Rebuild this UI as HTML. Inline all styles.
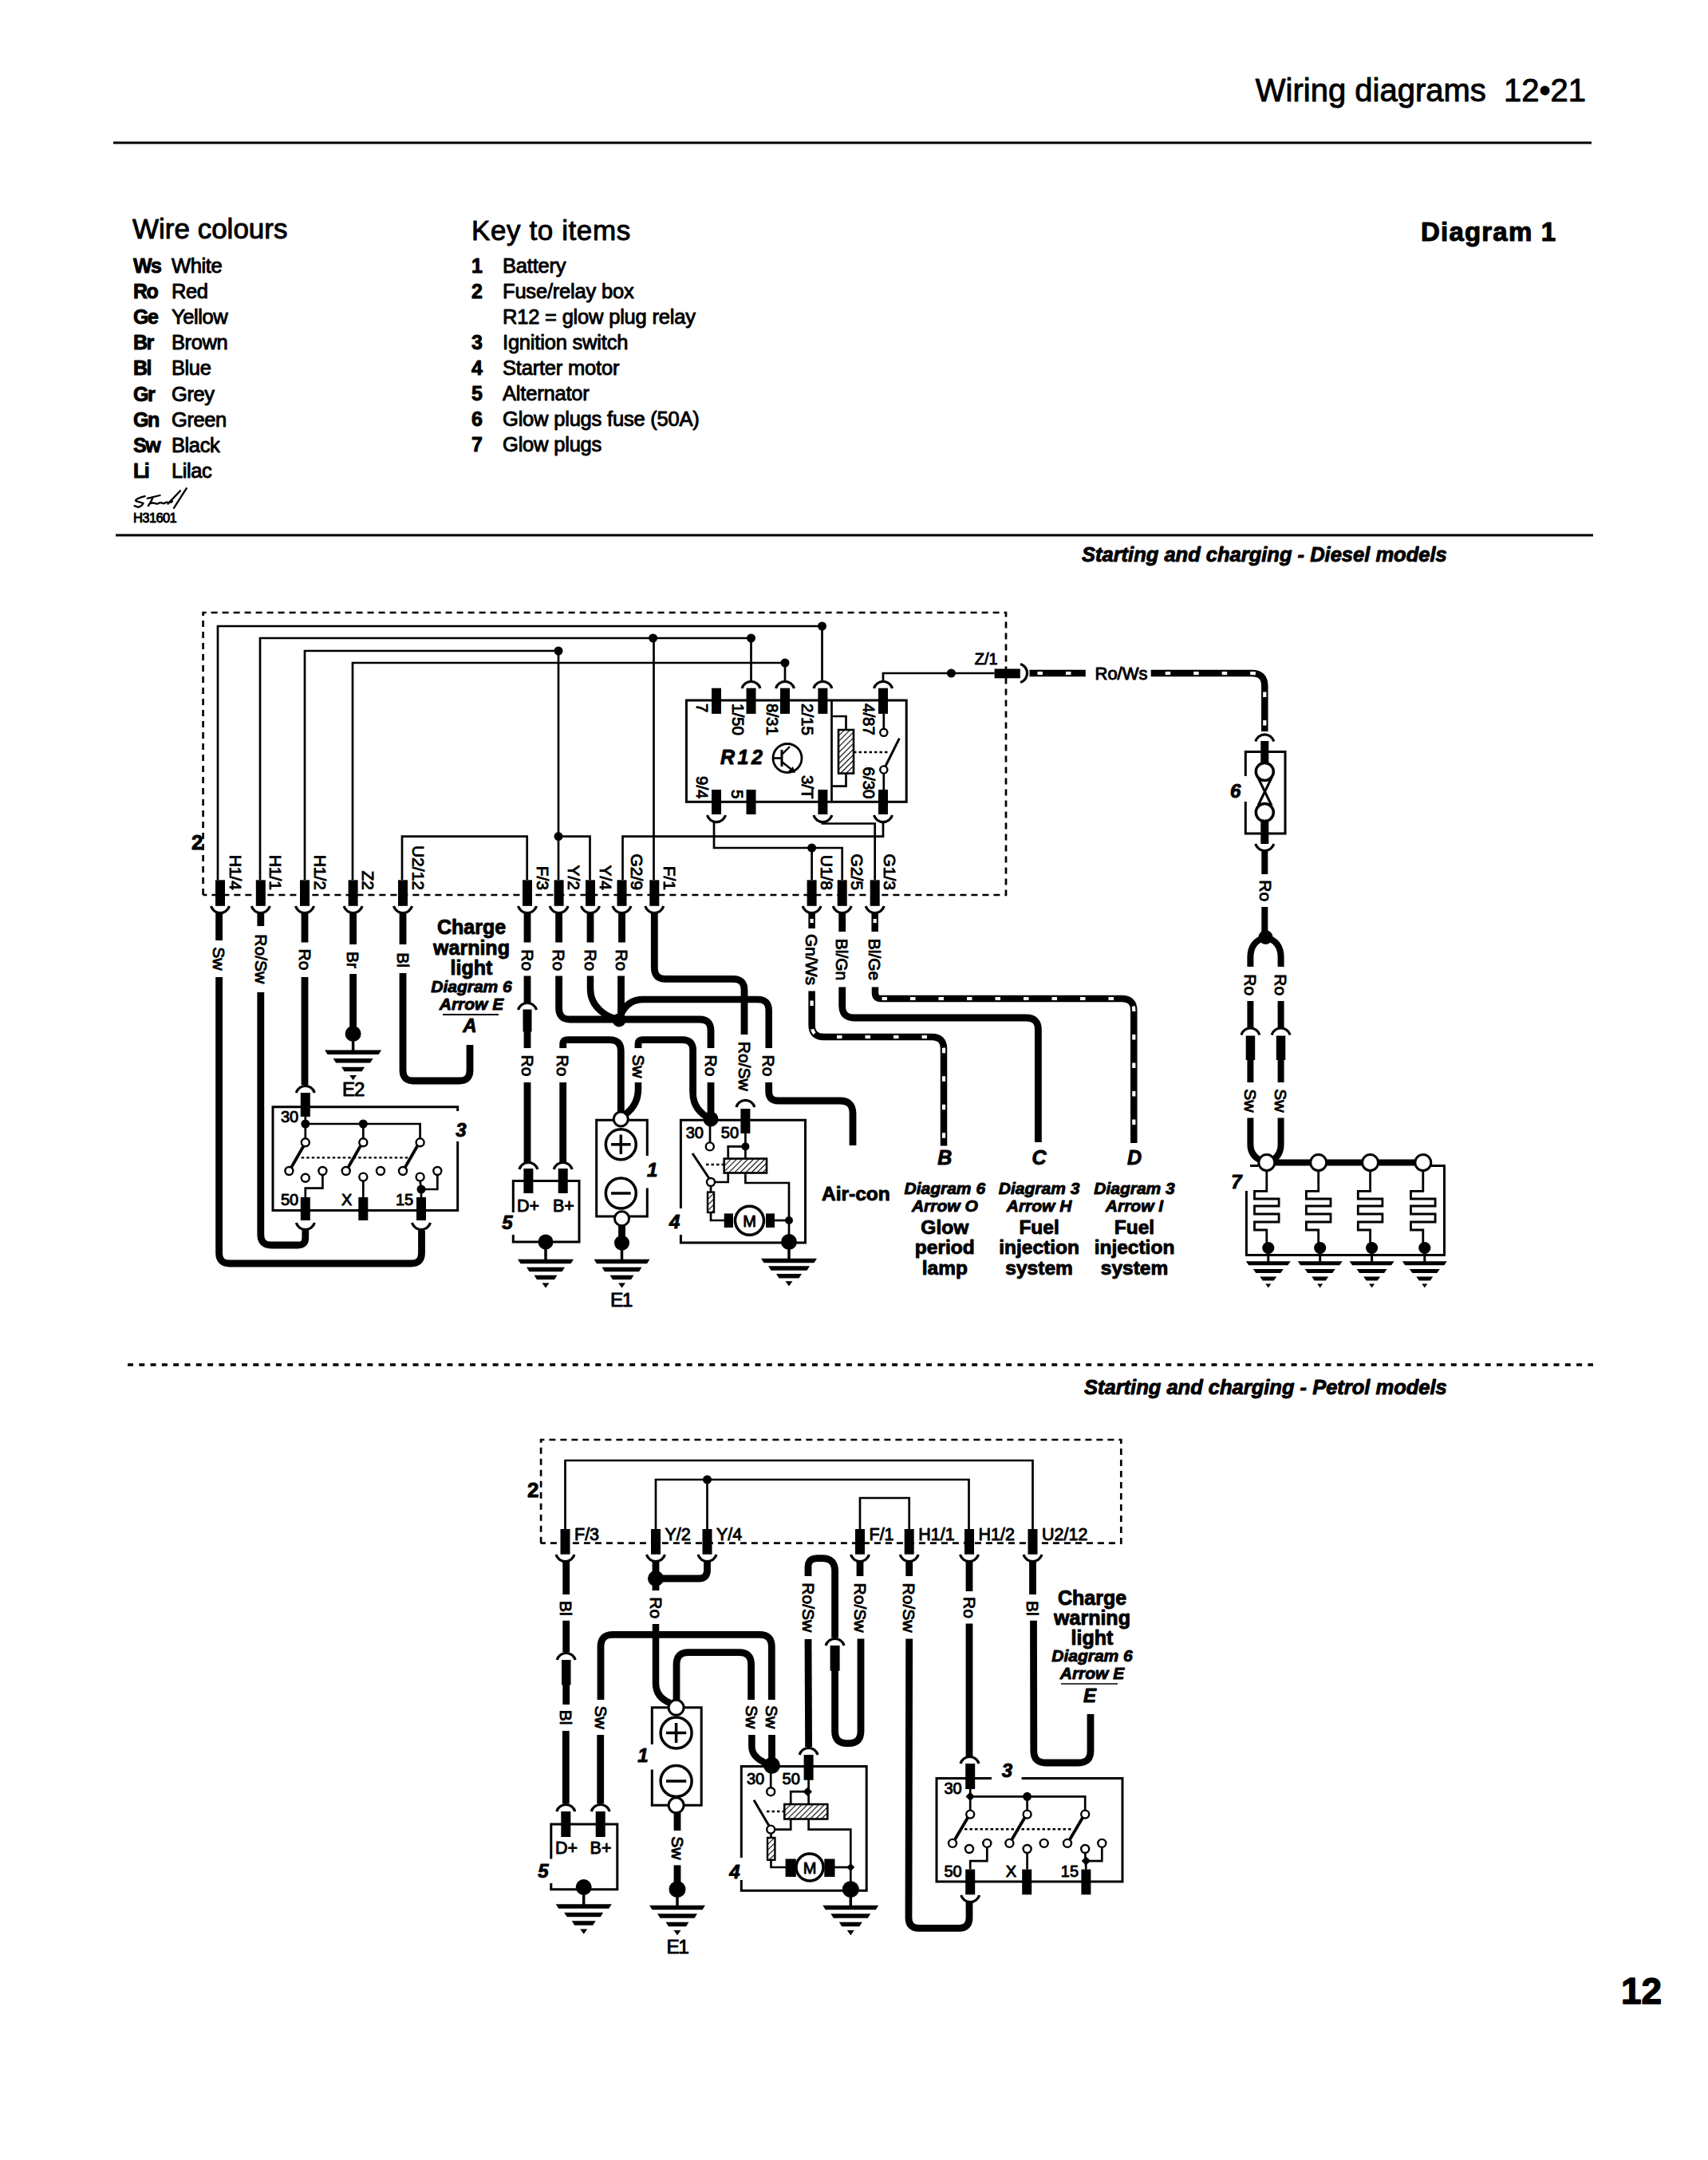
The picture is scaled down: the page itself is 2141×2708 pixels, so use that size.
<!DOCTYPE html>
<html><head><meta charset="utf-8"><style>
html,body{margin:0;padding:0;background:#fff;}
body{width:2141px;height:2708px;overflow:hidden;}
svg{display:block;}
text{font-family:"Liberation Sans",sans-serif;fill:#000;stroke:#000;stroke-width:0.95px;stroke-linejoin:round;}
.tn{fill:none;stroke:#000;stroke-linecap:butt;stroke-linejoin:miter;}
.tk{fill:none;stroke:#000;stroke-linecap:butt;stroke-linejoin:round;}
.wd{fill:none;stroke:#fff;stroke-width:4.2;stroke-linecap:butt;}
</style></head><body>
<svg width="2141" height="2708" viewBox="0 0 2141 2708">
<defs>
<pattern id="hatch" patternUnits="userSpaceOnUse" width="5" height="5" patternTransform="rotate(45)">
<rect width="5" height="5" fill="#fff"/><line x1="0" y1="0" x2="0" y2="5" stroke="#000" stroke-width="2.2"/>
</pattern>
</defs>
<rect width="2141" height="2708" fill="#fff"/>
<text x="1988" y="127" font-size="40" font-weight="normal" font-style="normal" text-anchor="end">Wiring diagrams&#160;&#160;12&#8226;21</text>
<rect x="142" y="177.5" width="1853" height="3" fill="#000"/>
<text x="166" y="299" font-size="35" font-weight="normal" font-style="normal" text-anchor="start">Wire colours</text>
<text x="167" y="341.5" font-size="25" font-weight="bold" font-style="normal" text-anchor="start" letter-spacing="-1.5">Ws</text>
<text x="215" y="341.5" font-size="25.5" font-weight="normal" font-style="normal" text-anchor="start" letter-spacing="-0.4">White</text>
<text x="167" y="373.7" font-size="25" font-weight="bold" font-style="normal" text-anchor="start" letter-spacing="-1.5">Ro</text>
<text x="215" y="373.7" font-size="25.5" font-weight="normal" font-style="normal" text-anchor="start" letter-spacing="-0.4">Red</text>
<text x="167" y="405.9" font-size="25" font-weight="bold" font-style="normal" text-anchor="start" letter-spacing="-1.5">Ge</text>
<text x="215" y="405.9" font-size="25.5" font-weight="normal" font-style="normal" text-anchor="start" letter-spacing="-0.4">Yellow</text>
<text x="167" y="438.1" font-size="25" font-weight="bold" font-style="normal" text-anchor="start" letter-spacing="-1.5">Br</text>
<text x="215" y="438.1" font-size="25.5" font-weight="normal" font-style="normal" text-anchor="start" letter-spacing="-0.4">Brown</text>
<text x="167" y="470.3" font-size="25" font-weight="bold" font-style="normal" text-anchor="start" letter-spacing="-1.5">Bl</text>
<text x="215" y="470.3" font-size="25.5" font-weight="normal" font-style="normal" text-anchor="start" letter-spacing="-0.4">Blue</text>
<text x="167" y="502.5" font-size="25" font-weight="bold" font-style="normal" text-anchor="start" letter-spacing="-1.5">Gr</text>
<text x="215" y="502.5" font-size="25.5" font-weight="normal" font-style="normal" text-anchor="start" letter-spacing="-0.4">Grey</text>
<text x="167" y="534.7" font-size="25" font-weight="bold" font-style="normal" text-anchor="start" letter-spacing="-1.5">Gn</text>
<text x="215" y="534.7" font-size="25.5" font-weight="normal" font-style="normal" text-anchor="start" letter-spacing="-0.4">Green</text>
<text x="167" y="566.9" font-size="25" font-weight="bold" font-style="normal" text-anchor="start" letter-spacing="-1.5">Sw</text>
<text x="215" y="566.9" font-size="25.5" font-weight="normal" font-style="normal" text-anchor="start" letter-spacing="-0.4">Black</text>
<text x="167" y="599.1" font-size="25" font-weight="bold" font-style="normal" text-anchor="start" letter-spacing="-1.5">Li</text>
<text x="215" y="599.1" font-size="25.5" font-weight="normal" font-style="normal" text-anchor="start" letter-spacing="-0.4">Lilac</text>
<text x="591" y="301" font-size="35" font-weight="normal" font-style="normal" text-anchor="start" letter-spacing="0.6">Key to items</text>
<text x="591" y="341.5" font-size="25" font-weight="bold" font-style="normal" text-anchor="start">1</text>
<text x="630" y="341.5" font-size="25.5" font-weight="normal" font-style="normal" text-anchor="start" letter-spacing="-0.2">Battery</text>
<text x="591" y="373.6" font-size="25" font-weight="bold" font-style="normal" text-anchor="start">2</text>
<text x="630" y="373.6" font-size="25.5" font-weight="normal" font-style="normal" text-anchor="start" letter-spacing="-0.2">Fuse/relay box</text>
<text x="630" y="405.6" font-size="25.5" font-weight="normal" font-style="normal" text-anchor="start" letter-spacing="-0.2">R12 = glow plug relay</text>
<text x="591" y="437.7" font-size="25" font-weight="bold" font-style="normal" text-anchor="start">3</text>
<text x="630" y="437.7" font-size="25.5" font-weight="normal" font-style="normal" text-anchor="start" letter-spacing="-0.2">Ignition switch</text>
<text x="591" y="469.8" font-size="25" font-weight="bold" font-style="normal" text-anchor="start">4</text>
<text x="630" y="469.8" font-size="25.5" font-weight="normal" font-style="normal" text-anchor="start" letter-spacing="-0.2">Starter motor</text>
<text x="591" y="501.9" font-size="25" font-weight="bold" font-style="normal" text-anchor="start">5</text>
<text x="630" y="501.9" font-size="25.5" font-weight="normal" font-style="normal" text-anchor="start" letter-spacing="-0.2">Alternator</text>
<text x="591" y="533.9" font-size="25" font-weight="bold" font-style="normal" text-anchor="start">6</text>
<text x="630" y="533.9" font-size="25.5" font-weight="normal" font-style="normal" text-anchor="start" letter-spacing="-0.2">Glow plugs fuse (50A)</text>
<text x="591" y="566" font-size="25" font-weight="bold" font-style="normal" text-anchor="start">7</text>
<text x="630" y="566" font-size="25.5" font-weight="normal" font-style="normal" text-anchor="start" letter-spacing="-0.2">Glow plugs</text>
<text x="1781" y="302" font-size="33" font-weight="bold" font-style="normal" text-anchor="start" letter-spacing="1.2" style="stroke-width:1.1px">Diagram 1</text>
<path d="M181.6,622.1 C176,623.5 171,625.5 170,627.4 C171,629.5 177,629 179.5,631 C179,633.5 175,635.5 173,635.8 L168.6,634.2 M184.8,624.8 L200.5,621 M191.6,623.5 C190,628 187.5,632 185.8,634.2 M189,631 C193,629 196,633 199,631 C202,628 204,633 207,630.5 C210,628 213,632 216,628.5 M218,636.9 L233.8,612.1 M210.5,631.6 L226,615.3" fill="none" stroke="#000" stroke-width="2.3" stroke-linecap="round"/>
<text x="167" y="654.8" font-size="16.5" font-weight="normal" font-style="normal" text-anchor="start" letter-spacing="-0.6">H31601</text>
<rect x="145" y="669.5" width="1852" height="3" fill="#000"/>
<text x="1356" y="703.5" font-size="25.5" font-weight="bold" font-style="italic" text-anchor="start">Starting and charging - Diesel models</text>
<path d="M160,1711 L1997,1711" class="tn" style="stroke-width:3.5;stroke-dasharray:7 7.3;stroke-dashoffset:0;stroke-linecap:butt"/>
<text x="1359" y="1747.6" font-size="25.5" font-weight="bold" font-style="italic" text-anchor="start">Starting and charging - Petrol models</text>
<text x="2032" y="2512" font-size="46" font-weight="bold" font-style="normal" text-anchor="start" style="stroke-width:1.4px">12</text>
<path d="M254.6,1122 L254.6,768 L1261,768 L1261,1122 L254.6,1122" class="tn" style="stroke-width:2.7;stroke-dasharray:8 6;stroke-dashoffset:0;stroke-linecap:butt"/>
<text x="240" y="1064.7" font-size="26" font-weight="bold" font-style="normal" text-anchor="start">2</text>
<path d="M273,1103 L273,785 L1030.5,785 L1030.5,854" class="tn" style="stroke-width:2.7"/>
<circle cx="1030.5" cy="785" r="5.5" fill="#000"/>
<path d="M326,1103 L326,800 L941.5,800 L941.5,853" class="tn" style="stroke-width:2.7"/>
<circle cx="818.6" cy="800" r="5.5" fill="#000"/>
<circle cx="941.5" cy="800" r="5.5" fill="#000"/>
<path d="M819.5,800 L819.5,1103" class="tn" style="stroke-width:2.7"/>
<path d="M382,1103 L382,816 L700,816" class="tn" style="stroke-width:2.7"/>
<circle cx="700" cy="816" r="5.5" fill="#000"/>
<path d="M700,816 L700,1103" class="tn" style="stroke-width:2.7"/>
<circle cx="700" cy="1048.6" r="5.5" fill="#000"/>
<path d="M700,1048.6 L739.5,1048.6 L739.5,1103" class="tn" style="stroke-width:2.7"/>
<path d="M442,1103 L442,831 L984,831 L984,853" class="tn" style="stroke-width:2.7"/>
<circle cx="984" cy="831" r="5.5" fill="#000"/>
<path d="M504,1103 L504,1048.6 L660.7,1048.6 L660.7,1103" class="tn" style="stroke-width:2.7"/>
<path d="M780.5,1103 L780.5,1048.6 L1107,1048.6 L1107,1031" class="tn" style="stroke-width:2.7"/>
<path d="M895,1031 L895,1063 L1055.7,1063 L1055.7,1103" class="tn" style="stroke-width:2.7"/>
<circle cx="1017.6" cy="1063" r="5.5" fill="#000"/>
<path d="M1017.6,1063 L1017.6,1103" class="tn" style="stroke-width:2.7"/>
<path d="M1031,1031 L1031,1032.5 L1096.7,1032.5 L1096.7,1103" class="tn" style="stroke-width:2.7"/>
<path d="M1107,853 L1107,844 L1246.6,844" class="tn" style="stroke-width:2.7"/>
<circle cx="1192.4" cy="844" r="5.5" fill="#000"/>
<rect x="860.4" y="878" width="275.8" height="127.3" fill="none" stroke="#000" stroke-width="3"/>
<rect x="892" y="862.7" width="12" height="32.2" fill="#000"/>
<rect x="935.5" y="862.7" width="12" height="32.2" fill="#000"/>
<rect x="978" y="862.7" width="12" height="32.2" fill="#000"/>
<rect x="1025.4" y="862.7" width="12" height="32.2" fill="#000"/>
<rect x="1101" y="862.7" width="12" height="32.2" fill="#000"/>
<path d="M930,863 A12 12 0 0 1 953,863" class="tn" style="stroke-width:3.2"/>
<path d="M972.5,863 A12 12 0 0 1 995.5,863" class="tn" style="stroke-width:3.2"/>
<path d="M1019.9,863 A12 12 0 0 1 1042.9,863" class="tn" style="stroke-width:3.2"/>
<path d="M1095.5,863 A12 12 0 0 1 1118.5,863" class="tn" style="stroke-width:3.2"/>
<rect x="892" y="990" width="12" height="31" fill="#000"/>
<rect x="935.5" y="990" width="12" height="31" fill="#000"/>
<rect x="1025.4" y="990" width="12" height="31" fill="#000"/>
<rect x="1101" y="990" width="12" height="31" fill="#000"/>
<path d="M886.5,1022 A12 12 0 0 0 909.5,1022" class="tn" style="stroke-width:3.2"/>
<path d="M1019.9,1022 A12 12 0 0 0 1042.9,1022" class="tn" style="stroke-width:3.2"/>
<path d="M1095.5,1022 A12 12 0 0 0 1118.5,1022" class="tn" style="stroke-width:3.2"/>
<text x="873" y="882" font-size="20.5" font-weight="normal" font-style="normal" text-anchor="start" transform="rotate(90 873 882)">7</text>
<text x="918" y="882" font-size="20.5" font-weight="normal" font-style="normal" text-anchor="start" transform="rotate(90 918 882)">1/50</text>
<text x="960.5" y="882" font-size="20.5" font-weight="normal" font-style="normal" text-anchor="start" transform="rotate(90 960.5 882)">8/31</text>
<text x="1004.5" y="882" font-size="20.5" font-weight="normal" font-style="normal" text-anchor="start" transform="rotate(90 1004.5 882)">2/15</text>
<text x="1082" y="882" font-size="20.5" font-weight="normal" font-style="normal" text-anchor="start" transform="rotate(90 1082 882)">4/87</text>
<text x="873" y="1001.5" font-size="20.5" font-weight="normal" font-style="normal" text-anchor="end" transform="rotate(90 873 1001.5)">9/4</text>
<text x="916.6" y="1001.5" font-size="20.5" font-weight="normal" font-style="normal" text-anchor="end" transform="rotate(90 916.6 1001.5)">5</text>
<text x="1004.5" y="1001.5" font-size="20.5" font-weight="normal" font-style="normal" text-anchor="end" transform="rotate(90 1004.5 1001.5)">3/T</text>
<text x="1082" y="1001.5" font-size="20.5" font-weight="normal" font-style="normal" text-anchor="end" transform="rotate(90 1082 1001.5)">6/30</text>
<text x="903" y="958.4" font-size="25" font-weight="bold" font-style="italic" text-anchor="start" letter-spacing="3.5">R12</text>
<circle cx="987" cy="950.5" r="18" fill="none" stroke="#000" stroke-width="2.8"/>
<path d="M969,950.5 L980,950.5" class="tn" style="stroke-width:2.6"/>
<path d="M980,940 L980,961" class="tn" style="stroke-width:3"/>
<path d="M980,946 L990,936" class="tn" style="stroke-width:2.4"/>
<path d="M980,955 L995,967" class="tn" style="stroke-width:2.4"/>
<path d="M997,969 L988,967 L994,961 Z" fill="#000"/>
<path d="M1042.5,878 L1042.5,1005" class="tn" style="stroke-width:2.7"/>
<path d="M1042.5,898 L1060.5,898 L1060.5,915" class="tn" style="stroke-width:2.7"/>
<rect x="1051" y="915" width="19" height="54.6" fill="url(#hatch)" stroke="#000" stroke-width="2.6"/>
<path d="M1060.5,969.6 L1060.5,985.7 L1042.5,985.7" class="tn" style="stroke-width:2.7"/>
<path d="M1107.8,895 L1107.8,914" class="tn" style="stroke-width:2.7"/>
<circle cx="1107.8" cy="918.3" r="4.6" fill="#fff" stroke="#000" stroke-width="2.4"/>
<circle cx="1107.8" cy="965" r="4.6" fill="#fff" stroke="#000" stroke-width="2.4"/>
<path d="M1107.8,969.6 L1107.8,990" class="tn" style="stroke-width:2.7"/>
<path d="M1110,960.5 L1127.4,925.6" class="tn" style="stroke-width:3"/>
<path d="M1070,943 L1115,943" class="tn" style="stroke-width:2.6;stroke-dasharray:3.5 3"/>
<rect x="270" y="1103.3" width="12" height="32.5" fill="#000"/>
<path d="M264.5,1136 A12 12 0 0 0 287.5,1136" class="tn" style="stroke-width:3.2"/>
<text x="287.5" y="1116" font-size="21" font-weight="normal" font-style="normal" text-anchor="end" transform="rotate(90 287.5 1116)">H1/4</text>
<rect x="320.8" y="1103.3" width="12" height="32.5" fill="#000"/>
<path d="M315.3,1136 A12 12 0 0 0 338.3,1136" class="tn" style="stroke-width:3.2"/>
<text x="338.3" y="1116" font-size="21" font-weight="normal" font-style="normal" text-anchor="end" transform="rotate(90 338.3 1116)">H1/1</text>
<rect x="376" y="1103.3" width="12" height="32.5" fill="#000"/>
<path d="M370.5,1136 A12 12 0 0 0 393.5,1136" class="tn" style="stroke-width:3.2"/>
<text x="393.5" y="1116" font-size="21" font-weight="normal" font-style="normal" text-anchor="end" transform="rotate(90 393.5 1116)">H1/2</text>
<rect x="436.6" y="1103.3" width="12" height="32.5" fill="#000"/>
<path d="M431.1,1136 A12 12 0 0 0 454.1,1136" class="tn" style="stroke-width:3.2"/>
<text x="454.1" y="1116" font-size="21" font-weight="normal" font-style="normal" text-anchor="end" transform="rotate(90 454.1 1116)">Z2</text>
<rect x="499" y="1103.3" width="12" height="32.5" fill="#000"/>
<path d="M493.5,1136 A12 12 0 0 0 516.5,1136" class="tn" style="stroke-width:3.2"/>
<text x="516.5" y="1116" font-size="21" font-weight="normal" font-style="normal" text-anchor="end" transform="rotate(90 516.5 1116)">U2/12</text>
<rect x="655" y="1103.3" width="12" height="32.5" fill="#000"/>
<path d="M649.5,1136 A12 12 0 0 0 672.5,1136" class="tn" style="stroke-width:3.2"/>
<text x="672.5" y="1116" font-size="21" font-weight="normal" font-style="normal" text-anchor="end" transform="rotate(90 672.5 1116)">F/3</text>
<rect x="694.6" y="1103.3" width="12" height="32.5" fill="#000"/>
<path d="M689.1,1136 A12 12 0 0 0 712.1,1136" class="tn" style="stroke-width:3.2"/>
<text x="712.1" y="1116" font-size="21" font-weight="normal" font-style="normal" text-anchor="end" transform="rotate(90 712.1 1116)">Y/2</text>
<rect x="734" y="1103.3" width="12" height="32.5" fill="#000"/>
<path d="M728.5,1136 A12 12 0 0 0 751.5,1136" class="tn" style="stroke-width:3.2"/>
<text x="751.5" y="1116" font-size="21" font-weight="normal" font-style="normal" text-anchor="end" transform="rotate(90 751.5 1116)">Y/4</text>
<rect x="773.5" y="1103.3" width="12" height="32.5" fill="#000"/>
<path d="M768,1136 A12 12 0 0 0 791,1136" class="tn" style="stroke-width:3.2"/>
<text x="791" y="1116" font-size="21" font-weight="normal" font-style="normal" text-anchor="end" transform="rotate(90 791 1116)">G2/9</text>
<rect x="814.3" y="1103.3" width="12" height="32.5" fill="#000"/>
<path d="M808.8,1136 A12 12 0 0 0 831.8,1136" class="tn" style="stroke-width:3.2"/>
<text x="831.8" y="1116" font-size="21" font-weight="normal" font-style="normal" text-anchor="end" transform="rotate(90 831.8 1116)">F/1</text>
<rect x="1011.6" y="1103.3" width="12" height="32.5" fill="#000"/>
<path d="M1006.1,1136 A12 12 0 0 0 1029.1,1136" class="tn" style="stroke-width:3.2"/>
<text x="1029.1" y="1116" font-size="21" font-weight="normal" font-style="normal" text-anchor="end" transform="rotate(90 1029.1 1116)">U1/8</text>
<rect x="1049.7" y="1103.3" width="12" height="32.5" fill="#000"/>
<path d="M1044.2,1136 A12 12 0 0 0 1067.2,1136" class="tn" style="stroke-width:3.2"/>
<text x="1067.2" y="1116" font-size="21" font-weight="normal" font-style="normal" text-anchor="end" transform="rotate(90 1067.2 1116)">G2/5</text>
<rect x="1090.7" y="1103.3" width="12" height="32.5" fill="#000"/>
<path d="M1085.2,1136 A12 12 0 0 0 1108.2,1136" class="tn" style="stroke-width:3.2"/>
<text x="1108.2" y="1116" font-size="21" font-weight="normal" font-style="normal" text-anchor="end" transform="rotate(90 1108.2 1116)">G1/3</text>
<rect x="1246.6" y="838.5" width="32.2" height="11.8" fill="#000"/>
<path d="M1279,832.5 A12 12 0 0 1 1279,855.5" class="tn" style="stroke-width:3.2"/>
<text x="1221.7" y="832.7" font-size="20" font-weight="normal" font-style="normal" text-anchor="start">Z/1</text>
<path d="M1290.5,844 L1360.8,844" class="tk" style="stroke-width:8.5"/>
<path d="M1290.5,844 L1360.8,844" class="wd" style="stroke-dasharray:6.5 29;stroke-dashoffset:-10"/>
<text x="1372.5" y="852" font-size="22" font-weight="normal" font-style="normal" text-anchor="start">Ro/Ws</text>
<path d="M1442.7,844 L1569.3,844 Q1585.3,844 1585.3,860 L1585.3,917" class="tk" style="stroke-width:8.5"/>
<path d="M1442.7,844 L1569.3,844 Q1585.3,844 1585.3,860 L1585.3,917" class="wd" style="stroke-dasharray:6.5 29;stroke-dashoffset:-18"/>
<path d="M1573.8,929.5 A12 12 0 0 1 1596.8,929.5" class="tn" style="stroke-width:3.2"/>
<rect x="1580.3" y="929" width="10" height="14" fill="#000"/>
<path d="M1561.3,973 L1561.3,942.5 L1611,942.5 L1611,1045 L1561.3,1045 L1561.3,1005" fill="none" stroke="#000" stroke-width="3"/>
<path d="M1577,975 L1594,1010" class="tn" style="stroke-width:3"/>
<path d="M1594,975 L1577,1010" class="tn" style="stroke-width:3"/>
<circle cx="1585.3" cy="967.4" r="11" fill="#fff" stroke="#000" stroke-width="3.5"/>
<circle cx="1585.3" cy="1018.6" r="11" fill="#fff" stroke="#000" stroke-width="3.5"/>
<rect x="1580.3" y="942.5" width="10" height="13.5" fill="#000"/>
<rect x="1580.3" y="1029.5" width="10" height="28.5" fill="#000"/>
<path d="M1573.8,1058 A12 12 0 0 0 1596.8,1058" class="tn" style="stroke-width:3.2"/>
<text x="1542" y="1000" font-size="24" font-weight="bold" font-style="italic" text-anchor="start">6</text>
<path d="M1585.3,1068 L1585.3,1096" class="tk" style="stroke-width:8"/>
<text x="1578.5" y="1116.8" font-size="21" font-weight="normal" font-style="normal" text-anchor="middle" transform="rotate(90 1578.5 1116.8)">Ro</text>
<path d="M1585.3,1137 L1585.3,1175" class="tk" style="stroke-width:8"/>
<circle cx="1586.5" cy="1175" r="9" fill="#000"/>
<path d="M274.6,1144 L274.6,1179" class="tk" style="stroke-width:8.8"/>
<text x="267" y="1201.8" font-size="21" font-weight="normal" font-style="normal" text-anchor="middle" transform="rotate(90 267 1201.8)">Sw</text>
<path d="M274.6,1225 L274.6,1571 Q274.6,1584 287.6,1584 L515.5,1584 Q528.5,1584 528.5,1571 L528.5,1543" class="tk" style="stroke-width:8.8"/>
<path d="M326.8,1144 L326.8,1161" class="tk" style="stroke-width:8.8"/>
<text x="319.5" y="1202.3" font-size="21" font-weight="normal" font-style="normal" text-anchor="middle" transform="rotate(90 319.5 1202.3)">Ro/Sw</text>
<path d="M326.8,1244 L326.8,1548 Q326.8,1561 339.8,1561 L373.8,1561 Q382.8,1561 382.8,1552 L382.8,1543" class="tk" style="stroke-width:8.8"/>
<path d="M382,1144 L382,1181.5" class="tk" style="stroke-width:8.8"/>
<text x="374.5" y="1203" font-size="21" font-weight="normal" font-style="normal" text-anchor="middle" transform="rotate(90 374.5 1203)">Ro</text>
<path d="M382,1225 L382,1360" class="tk" style="stroke-width:8.8"/>
<path d="M371.3,1370 A12 12 0 0 1 394.3,1370" class="tn" style="stroke-width:3.2"/>
<path d="M442.6,1144 L442.6,1184" class="tk" style="stroke-width:8.8"/>
<text x="435" y="1203.5" font-size="21" font-weight="normal" font-style="normal" text-anchor="middle" transform="rotate(90 435 1203.5)">Br</text>
<path d="M442.6,1221 L442.6,1290" class="tk" style="stroke-width:8.8"/>
<circle cx="442.6" cy="1296" r="10" fill="#000"/>
<path d="M442.6,1300 L442.6,1318" class="tn" style="stroke-width:3.5"/>
<path d="M407.1,1316.5 L478.1,1316.5 L474.6,1322 L410.6,1322 Z" fill="#000"/>
<path d="M417.6,1327 L467.6,1327 L464.1,1332.5 L421.1,1332.5 Z" fill="#000"/>
<path d="M428.1,1337.7 L457.1,1337.7 L453.6,1343.2 L431.6,1343.2 Z" fill="#000"/>
<path d="M438.1,1348 L447.1,1348 L442.6,1354.3 Z" fill="#000"/>
<text x="442.6" y="1373.5" font-size="24" font-weight="normal" font-style="normal" text-anchor="middle" letter-spacing="-1">E2</text>
<path d="M505,1144 L505,1184" class="tk" style="stroke-width:8.8"/>
<text x="497.5" y="1203.5" font-size="21" font-weight="normal" font-style="normal" text-anchor="middle" transform="rotate(90 497.5 1203.5)">Bl</text>
<path d="M505,1220 L505,1342 Q505,1355 518,1355 L576,1355 Q589,1355 589,1342 L589,1310" class="tk" style="stroke-width:8.8"/>
<text x="591" y="1171.3" font-size="25" font-weight="bold" font-style="normal" text-anchor="middle">Charge</text>
<text x="591" y="1197" font-size="25" font-weight="bold" font-style="normal" text-anchor="middle">warning</text>
<text x="591" y="1222" font-size="25" font-weight="bold" font-style="normal" text-anchor="middle">light</text>
<text x="591" y="1243.9" font-size="21" font-weight="bold" font-style="italic" text-anchor="middle">Diagram 6</text>
<text x="591" y="1265.5" font-size="21" font-weight="bold" font-style="italic" text-anchor="middle">Arrow E</text>
<path d="M555,1272 L625,1272" class="tn" style="stroke-width:2"/>
<text x="589" y="1293.5" font-size="24" font-weight="bold" font-style="italic" text-anchor="middle">A</text>
<path d="M661,1144 L661,1181.5" class="tk" style="stroke-width:8.8"/>
<text x="653.5" y="1203.8" font-size="21" font-weight="normal" font-style="normal" text-anchor="middle" transform="rotate(90 653.5 1203.8)">Ro</text>
<path d="M661,1223.5 L661,1258" class="tk" style="stroke-width:8.8"/>
<path d="M649.5,1266 A12 12 0 0 1 672.5,1266" class="tn" style="stroke-width:3.2"/>
<rect x="655.5" y="1265.5" width="11" height="28" fill="#000"/>
<path d="M661,1293 L661,1314" class="tk" style="stroke-width:8.8"/>
<text x="653.5" y="1336" font-size="21" font-weight="normal" font-style="normal" text-anchor="middle" transform="rotate(90 653.5 1336)">Ro</text>
<path d="M661,1357 L661,1459" class="tk" style="stroke-width:8.8"/>
<path d="M650.9,1466 A12 12 0 0 1 673.9,1466" class="tn" style="stroke-width:3.2"/>
<rect x="656.4" y="1465" width="12" height="31" fill="#000"/>
<path d="M700.6,1144 L700.6,1181.5" class="tk" style="stroke-width:8.8"/>
<text x="693" y="1203.8" font-size="21" font-weight="normal" font-style="normal" text-anchor="middle" transform="rotate(90 693 1203.8)">Ro</text>
<path d="M700.6,1223.5 L700.6,1264 Q700.6,1278 714.6,1278 L776,1278" class="tk" style="stroke-width:8.8"/>
<path d="M740,1144 L740,1181.5" class="tk" style="stroke-width:8.8"/>
<text x="732.5" y="1203.8" font-size="21" font-weight="normal" font-style="normal" text-anchor="middle" transform="rotate(90 732.5 1203.8)">Ro</text>
<path d="M740,1223.5 L740,1240 C740,1262 760,1276 776,1278" class="tk" style="stroke-width:8.5"/>
<path d="M779.5,1144 L779.5,1181.5" class="tk" style="stroke-width:8.8"/>
<text x="772" y="1203.8" font-size="21" font-weight="normal" font-style="normal" text-anchor="middle" transform="rotate(90 772 1203.8)">Ro</text>
<path d="M778.5,1223.5 L778.5,1278" class="tk" style="stroke-width:8.8"/>
<circle cx="776" cy="1279" r="8.5" fill="#000"/>
<path d="M776,1278 L877,1278 Q891,1278 891,1292 L891,1314" class="tk" style="stroke-width:8.8"/>
<text x="883.5" y="1336" font-size="21" font-weight="normal" font-style="normal" text-anchor="middle" transform="rotate(90 883.5 1336)">Ro</text>
<path d="M891,1357 L891,1403" class="tk" style="stroke-width:8.8"/>
<path d="M776,1278 Q784,1253 806,1253 L950,1253 Q963.7,1253 963.7,1267 L963.7,1314" class="tk" style="stroke-width:8.5"/>
<text x="956" y="1336" font-size="21" font-weight="normal" font-style="normal" text-anchor="middle" transform="rotate(90 956 1336)">Ro</text>
<path d="M963.7,1357 L963.7,1368.5 Q963.7,1380 975.2,1380 L1053,1380 Q1069,1380 1069,1396 L1069,1436" class="tk" style="stroke-width:8.8"/>
<text x="1030" y="1504.8" font-size="24.5" font-weight="bold" font-style="normal" text-anchor="start">Air-con</text>
<path d="M820.3,1144 L820.3,1213.3 Q820.3,1227.3 834.3,1227.3 L919,1227.3 Q933,1227.3 933,1241.3 L933,1297" class="tk" style="stroke-width:8.8"/>
<text x="926" y="1336.8" font-size="21" font-weight="normal" font-style="normal" text-anchor="middle" transform="rotate(90 926 1336.8)">Ro/Sw</text>
<path d="M922.9,1388 A12 12 0 0 1 945.9,1388" class="tn" style="stroke-width:3.2"/>
<rect x="928.4" y="1390" width="12" height="31" fill="#000"/>
<path d="M705.7,1459 L705.7,1357" class="tk" style="stroke-width:8.8"/>
<text x="698" y="1336" font-size="21" font-weight="normal" font-style="normal" text-anchor="middle" transform="rotate(90 698 1336)">Ro</text>
<path d="M705.7,1314 L705.7,1308.8 Q705.7,1303.7 710.9,1303.7 L764.3,1303.7 Q778.3,1303.7 778.3,1317.7 L778.3,1395" class="tk" style="stroke-width:8.8"/>
<path d="M694.2,1466 A12 12 0 0 1 717.2,1466" class="tn" style="stroke-width:3.2"/>
<rect x="699.7" y="1465" width="12" height="31" fill="#000"/>
<path d="M784,1397 Q800,1385 800,1365 L800,1357" class="tk" style="stroke-width:8.5"/>
<text x="792.5" y="1336.8" font-size="21" font-weight="normal" font-style="normal" text-anchor="middle" transform="rotate(90 792.5 1336.8)">Sw</text>
<path d="M800,1314 L800,1308.8 Q800,1303.7 805.1,1303.7 L855.6,1303.7 Q868.6,1303.7 868.6,1316.7 L868.6,1370" class="tk" style="stroke-width:8.8"/>
<path d="M868.6,1370 Q868.6,1392 891,1403" class="tk" style="stroke-width:8.5"/>
<circle cx="891" cy="1403" r="9.5" fill="#000"/>
<path d="M573.7,1393 L573.7,1387.7 L342,1387.7 L342,1517.6 L573.7,1517.6 L573.7,1431" fill="none" stroke="#000" stroke-width="3"/>
<text x="578" y="1424.6" font-size="24" font-weight="bold" font-style="italic" text-anchor="middle">3</text>
<rect x="376.8" y="1370" width="12" height="30" fill="#000"/>
<text x="352" y="1406.8" font-size="20" font-weight="normal" font-style="normal" text-anchor="start">30</text>
<circle cx="382.8" cy="1409" r="5.5" fill="#000"/>
<path d="M382.8,1400 L382.8,1427" class="tn" style="stroke-width:2.7"/>
<path d="M382.8,1409 L526.6,1409 L526.6,1427" class="tn" style="stroke-width:2.7"/>
<circle cx="455.3" cy="1409" r="5.5" fill="#000"/>
<path d="M455.3,1409 L455.3,1427" class="tn" style="stroke-width:2.7"/>
<circle cx="382.8" cy="1432.3" r="5" fill="#fff" stroke="#000" stroke-width="2.4"/>
<circle cx="455.3" cy="1432.3" r="5" fill="#fff" stroke="#000" stroke-width="2.4"/>
<circle cx="526.6" cy="1432.3" r="5" fill="#fff" stroke="#000" stroke-width="2.4"/>
<path d="M364.9,1464 L380.4,1437" class="tn" style="stroke-width:3.8"/>
<path d="M436.2,1464 L451.7,1437" class="tn" style="stroke-width:3.8"/>
<path d="M507.5,1464 L523,1437" class="tn" style="stroke-width:3.8"/>
<path d="M377.7,1451.4 L512.6,1451.4" class="tn" style="stroke-width:2.4;stroke-dasharray:3.5 3"/>
<circle cx="362.4" cy="1468" r="5" fill="#fff" stroke="#000" stroke-width="2.4"/>
<circle cx="382.8" cy="1476.8" r="5" fill="#fff" stroke="#000" stroke-width="2.4"/>
<circle cx="404.4" cy="1468" r="5" fill="#fff" stroke="#000" stroke-width="2.4"/>
<circle cx="433.7" cy="1468" r="5" fill="#fff" stroke="#000" stroke-width="2.4"/>
<circle cx="455.3" cy="1475.6" r="5" fill="#fff" stroke="#000" stroke-width="2.4"/>
<circle cx="477" cy="1468" r="5" fill="#fff" stroke="#000" stroke-width="2.4"/>
<circle cx="505" cy="1468" r="5" fill="#fff" stroke="#000" stroke-width="2.4"/>
<circle cx="526.6" cy="1475.6" r="5" fill="#fff" stroke="#000" stroke-width="2.4"/>
<circle cx="548.3" cy="1468" r="5" fill="#fff" stroke="#000" stroke-width="2.4"/>
<path d="M404.4,1473 L404.4,1489.6 L382.8,1489.6 L382.8,1501" class="tn" style="stroke-width:2.7"/>
<rect x="376.8" y="1501" width="12" height="29" fill="#000"/>
<path d="M455.3,1480.6 L455.3,1501" class="tn" style="stroke-width:2.7"/>
<rect x="449.3" y="1501" width="12" height="29" fill="#000"/>
<path d="M548.3,1473 L548.3,1491 L528,1491" class="tn" style="stroke-width:2.7"/>
<path d="M526.6,1480.6 L528,1491 L528,1501" class="tn" style="stroke-width:2.7"/>
<circle cx="528" cy="1491" r="5.5" fill="#000"/>
<rect x="522" y="1501" width="12" height="29" fill="#000"/>
<text x="352" y="1511" font-size="20" font-weight="normal" font-style="normal" text-anchor="start">50</text>
<text x="428" y="1511" font-size="20" font-weight="normal" font-style="normal" text-anchor="start">X</text>
<text x="496" y="1511" font-size="20" font-weight="normal" font-style="normal" text-anchor="start">15</text>
<path d="M371.3,1533 A12 12 0 0 0 394.3,1533" class="tn" style="stroke-width:3.2"/>
<path d="M516.5,1533 A12 12 0 0 0 539.5,1533" class="tn" style="stroke-width:3.2"/>
<path d="M643.3,1520 L643.3,1480.6 L726,1480.6 L726,1557 L643.3,1557 L643.3,1548" fill="none" stroke="#000" stroke-width="3"/>
<text x="648" y="1518.8" font-size="21.5" font-weight="normal" font-style="normal" text-anchor="start">D+</text>
<text x="693" y="1518.8" font-size="21.5" font-weight="normal" font-style="normal" text-anchor="start">B+</text>
<text x="636" y="1541" font-size="24" font-weight="bold" font-style="italic" text-anchor="middle">5</text>
<circle cx="684" cy="1557" r="9.5" fill="#000"/>
<path d="M684,1560 L684,1580" class="tn" style="stroke-width:3.5"/>
<path d="M649,1578.8 L719,1578.8 L715.5,1584.2 L652.5,1584.2 Z" fill="#000"/>
<path d="M660,1588.8 L708,1588.8 L704.5,1594.2 L663.5,1594.2 Z" fill="#000"/>
<path d="M669.5,1598.8 L698.5,1598.8 L695,1604.2 L673,1604.2 Z" fill="#000"/>
<path d="M679.5,1608.5 L688.5,1608.5 L684,1614.8 Z" fill="#000"/>
<path d="M811.3,1449 L811.3,1404.3 L747.7,1404.3 L747.7,1525 L811.3,1525 L811.3,1489.6" fill="none" stroke="#000" stroke-width="3"/>
<circle cx="778.3" cy="1403" r="9" fill="#fff" stroke="#000" stroke-width="3"/>
<circle cx="778.3" cy="1434.8" r="19" fill="#fff" stroke="#000" stroke-width="3.5"/>
<path d="M766,1434.8 L790.6,1434.8" class="tn" style="stroke-width:3.5"/>
<path d="M778.3,1422.5 L778.3,1447" class="tn" style="stroke-width:3.5"/>
<circle cx="778.3" cy="1496" r="19" fill="#fff" stroke="#000" stroke-width="3.5"/>
<path d="M766,1496 L790.6,1496" class="tn" style="stroke-width:3.5"/>
<path d="M779.5,1535 L779.5,1558" class="tk" style="stroke-width:8.8"/>
<circle cx="779.5" cy="1527.7" r="9" fill="#fff" stroke="#000" stroke-width="3"/>
<circle cx="779.5" cy="1558.3" r="9.5" fill="#000"/>
<path d="M779.5,1562 L779.5,1580" class="tn" style="stroke-width:3.5"/>
<path d="M744.5,1578.8 L814.5,1578.8 L811,1584.2 L748,1584.2 Z" fill="#000"/>
<path d="M754.5,1588.8 L804.5,1588.8 L801,1594.2 L758,1594.2 Z" fill="#000"/>
<path d="M764.5,1598.8 L794.5,1598.8 L791,1604.2 L768,1604.2 Z" fill="#000"/>
<path d="M775,1608.5 L784,1608.5 L779.5,1614.8 Z" fill="#000"/>
<text x="778.5" y="1638.2" font-size="24.5" font-weight="normal" font-style="normal" text-anchor="middle" letter-spacing="-1.5">E1</text>
<text x="817.7" y="1475" font-size="24" font-weight="bold" font-style="italic" text-anchor="middle">1</text>
<path d="M853.4,1515 L853.4,1404.3 L1009.5,1404.3 L1009.5,1558 L853.4,1558 L853.4,1548" fill="none" stroke="#000" stroke-width="3"/>
<text x="859.7" y="1427" font-size="20" font-weight="normal" font-style="normal" text-anchor="start">30</text>
<text x="903.8" y="1427" font-size="20" font-weight="normal" font-style="normal" text-anchor="start">50</text>
<text x="845.7" y="1540" font-size="24" font-weight="bold" font-style="italic" text-anchor="middle">4</text>
<path d="M890,1403 L890,1432.5" class="tn" style="stroke-width:2.7"/>
<circle cx="889.8" cy="1437.4" r="5" fill="#fff" stroke="#000" stroke-width="2.4"/>
<path d="M934.4,1421 L934.4,1452.6" class="tn" style="stroke-width:2.7"/>
<circle cx="934.4" cy="1437.4" r="5" fill="#000"/>
<path d="M934.4,1437.4 L912.7,1437.4 L912.7,1452.6" class="tn" style="stroke-width:2.7"/>
<rect x="907.7" y="1452.6" width="53.3" height="17.9" fill="url(#hatch)" stroke="#000" stroke-width="2.6"/>
<path d="M912.7,1470.5 L912.7,1482 L896,1482" class="tn" style="stroke-width:2.7"/>
<path d="M934.4,1470.5 L934.4,1483 L989,1483 L989,1557" class="tn" style="stroke-width:2.7"/>
<circle cx="891" cy="1482" r="5" fill="#fff" stroke="#000" stroke-width="2.4"/>
<path d="M889,1477.5 L868,1446" class="tn" style="stroke-width:3"/>
<path d="M885,1460 L907,1460" class="tn" style="stroke-width:2.4;stroke-dasharray:3.5 3"/>
<rect x="887" y="1494.6" width="8" height="25.4" fill="url(#hatch)" stroke="#000" stroke-width="2.4"/>
<path d="M891,1487 L891,1494.6" class="tn" style="stroke-width:2.7"/>
<path d="M891,1520 L891,1530 L909,1530" class="tn" style="stroke-width:2.7"/>
<rect x="907.7" y="1521.4" width="11.3" height="17.6" fill="#000"/>
<rect x="960" y="1521.4" width="11" height="17.6" fill="#000"/>
<circle cx="939.5" cy="1530.3" r="18" fill="#fff" stroke="#000" stroke-width="3.5"/>
<text x="939.5" y="1538" font-size="20" font-weight="normal" font-style="normal" text-anchor="middle">M</text>
<path d="M971,1530 L989,1530" class="tn" style="stroke-width:2.7"/>
<circle cx="989" cy="1530" r="5" fill="#000"/>
<circle cx="989" cy="1557" r="10" fill="#000"/>
<path d="M989,1560 L989,1579" class="tn" style="stroke-width:3.5"/>
<path d="M954,1577.8 L1024,1577.8 L1020.5,1583.2 L957.5,1583.2 Z" fill="#000"/>
<path d="M963,1587.3 L1015,1587.3 L1011.5,1592.8 L966.5,1592.8 Z" fill="#000"/>
<path d="M973,1597 L1005,1597 L1001.5,1602.5 L976.5,1602.5 Z" fill="#000"/>
<path d="M984.5,1606.3 L993.5,1606.3 L989,1612.6 Z" fill="#000"/>
<path d="M1017.6,1144 L1017.6,1164" class="tk" style="stroke-width:8.5"/>
<path d="M1017.6,1144 L1017.6,1164" class="wd" style="stroke-dasharray:5 30;stroke-dashoffset:-8"/>
<text x="1010" y="1203" font-size="21" font-weight="normal" font-style="normal" text-anchor="middle" transform="rotate(90 1010 1203)">Gn/Ws</text>
<path d="M1017.6,1242.6 L1017.6,1285 Q1017.6,1300 1032.6,1300 L1168,1300 Q1183,1300 1183,1315 L1183,1436.5" class="tk" style="stroke-width:8.5"/>
<path d="M1017.6,1242.6 L1017.6,1285 Q1017.6,1300 1032.6,1300 L1168,1300 Q1183,1300 1183,1315 L1183,1436.5" class="wd" style="stroke-dasharray:6.5 29;stroke-dashoffset:-12"/>
<path d="M1055.7,1144 L1055.7,1168" class="tk" style="stroke-width:8.8"/>
<text x="1048" y="1203" font-size="21" font-weight="normal" font-style="normal" text-anchor="middle" transform="rotate(90 1048 1203)">Bl/Gn</text>
<path d="M1055.7,1237.5 L1055.7,1261 Q1055.7,1276 1070.7,1276 L1286.4,1276 Q1301.4,1276 1301.4,1291 L1301.4,1432" class="tk" style="stroke-width:8.8"/>
<path d="M1096.7,1144 L1096.7,1168" class="tk" style="stroke-width:8.5"/>
<path d="M1096.7,1144 L1096.7,1168" class="wd" style="stroke-dasharray:5 30;stroke-dashoffset:-8"/>
<text x="1089" y="1203" font-size="21" font-weight="normal" font-style="normal" text-anchor="middle" transform="rotate(90 1089 1203)">Bl/Ge</text>
<path d="M1097,1237.5 L1097,1244.8 Q1097,1252 1104.2,1252 L1406.3,1252 Q1421.3,1252 1421.3,1267 L1421.3,1433" class="tk" style="stroke-width:8.5"/>
<path d="M1097,1237.5 L1097,1244.8 Q1097,1252 1104.2,1252 L1406.3,1252 Q1421.3,1252 1421.3,1267 L1421.3,1433" class="wd" style="stroke-dasharray:6.5 29;stroke-dashoffset:-20"/>
<text x="1184.3" y="1460" font-size="25" font-weight="bold" font-style="italic" text-anchor="middle">B</text>
<text x="1184.3" y="1497.4" font-size="21" font-weight="bold" font-style="italic" text-anchor="middle">Diagram 6</text>
<text x="1184.3" y="1518.5" font-size="21" font-weight="bold" font-style="italic" text-anchor="middle">Arrow O</text>
<text x="1184.3" y="1546.6" font-size="24.5" font-weight="bold" font-style="normal" text-anchor="middle">Glow</text>
<text x="1184.3" y="1572.4" font-size="24.5" font-weight="bold" font-style="normal" text-anchor="middle">period</text>
<text x="1184.3" y="1598" font-size="24.5" font-weight="bold" font-style="normal" text-anchor="middle">lamp</text>
<text x="1302.6" y="1460" font-size="25" font-weight="bold" font-style="italic" text-anchor="middle">C</text>
<text x="1302.6" y="1497.4" font-size="21" font-weight="bold" font-style="italic" text-anchor="middle">Diagram 3</text>
<text x="1302.6" y="1518.5" font-size="21" font-weight="bold" font-style="italic" text-anchor="middle">Arrow H</text>
<text x="1302.6" y="1546.6" font-size="24.5" font-weight="bold" font-style="normal" text-anchor="middle">Fuel</text>
<text x="1302.6" y="1572.4" font-size="24.5" font-weight="bold" font-style="normal" text-anchor="middle">injection</text>
<text x="1302.6" y="1598" font-size="24.5" font-weight="bold" font-style="normal" text-anchor="middle">system</text>
<text x="1422" y="1460" font-size="25" font-weight="bold" font-style="italic" text-anchor="middle">D</text>
<text x="1422" y="1497.4" font-size="21" font-weight="bold" font-style="italic" text-anchor="middle">Diagram 3</text>
<text x="1422" y="1518.5" font-size="21" font-weight="bold" font-style="italic" text-anchor="middle">Arrow I</text>
<text x="1422" y="1546.6" font-size="24.5" font-weight="bold" font-style="normal" text-anchor="middle">Fuel</text>
<text x="1422" y="1572.4" font-size="24.5" font-weight="bold" font-style="normal" text-anchor="middle">injection</text>
<text x="1422" y="1598" font-size="24.5" font-weight="bold" font-style="normal" text-anchor="middle">system</text>
<path d="M1586.5,1175 Q1567.4,1180 1567.4,1200 L1567.4,1212" class="tk" style="stroke-width:8"/>
<path d="M1586.5,1175 Q1605.6,1180 1605.6,1200 L1605.6,1212" class="tk" style="stroke-width:8"/>
<text x="1559.9" y="1234.8" font-size="21" font-weight="normal" font-style="normal" text-anchor="middle" transform="rotate(90 1559.9 1234.8)">Ro</text>
<path d="M1567.4,1255 L1567.4,1289" class="tk" style="stroke-width:8"/>
<path d="M1555.9,1297.5 A12 12 0 0 1 1578.9,1297.5" class="tn" style="stroke-width:3.2"/>
<rect x="1561.7" y="1298.5" width="11.5" height="30.5" fill="#000"/>
<path d="M1567.4,1329 L1567.4,1357" class="tk" style="stroke-width:8"/>
<text x="1559.9" y="1379.8" font-size="21" font-weight="normal" font-style="normal" text-anchor="middle" transform="rotate(90 1559.9 1379.8)">Sw</text>
<text x="1598.1" y="1234.8" font-size="21" font-weight="normal" font-style="normal" text-anchor="middle" transform="rotate(90 1598.1 1234.8)">Ro</text>
<path d="M1605.6,1255 L1605.6,1289" class="tk" style="stroke-width:8"/>
<path d="M1594.1,1297.5 A12 12 0 0 1 1617.1,1297.5" class="tn" style="stroke-width:3.2"/>
<rect x="1599.8" y="1298.5" width="11.5" height="30.5" fill="#000"/>
<path d="M1605.6,1329 L1605.6,1357" class="tk" style="stroke-width:8"/>
<text x="1598.1" y="1379.8" font-size="21" font-weight="normal" font-style="normal" text-anchor="middle" transform="rotate(90 1598.1 1379.8)">Sw</text>
<path d="M1567.4,1401.6 L1567.4,1435 Q1567.4,1452 1587.8,1457.6" class="tk" style="stroke-width:8"/>
<path d="M1605.6,1401.6 L1605.6,1435 Q1605.6,1452 1587.8,1457.6" class="tk" style="stroke-width:8"/>
<path d="M1587.8,1457.6 L1783.8,1457.6" class="tk" style="stroke-width:8"/>
<path d="M1562.4,1493 L1562.4,1573.4 L1810.5,1573.4 L1810.5,1461.4 L1794,1461.4 M1567,1461.4 L1577,1461.4" fill="none" stroke="#000" stroke-width="3"/>
<text x="1550" y="1490" font-size="24" font-weight="bold" font-style="italic" text-anchor="middle">7</text>
<circle cx="1587.8" cy="1457.6" r="10" fill="#fff" stroke="#000" stroke-width="3"/>
<path d="M1587.8,1467.6 L1587.8,1493.4 L1572.5,1493.4 L1572.5,1503 L1603.1,1503 L1603.1,1512 L1572.5,1512 L1572.5,1522 L1603.1,1522 L1603.1,1532 L1572.5,1532 L1572.5,1542 L1587.8,1542 L1587.8,1560" class="tn" style="stroke-width:2.8"/>
<circle cx="1589.8" cy="1564.5" r="7.6" fill="#000"/>
<path d="M1589.8,1570 L1589.8,1582" class="tn" style="stroke-width:3"/>
<path d="M1561.8,1581.3 L1617.8,1581.3 L1614.3,1586.3 L1565.3,1586.3 Z" fill="#000"/>
<path d="M1570.8,1590.9 L1608.8,1590.9 L1605.3,1595.9 L1574.3,1595.9 Z" fill="#000"/>
<path d="M1579.3,1600.5 L1600.3,1600.5 L1596.8,1605.5 L1582.8,1605.5 Z" fill="#000"/>
<path d="M1586.3,1609.6 L1593.3,1609.6 L1589.8,1614.5 Z" fill="#000"/>
<circle cx="1652.7" cy="1457.6" r="10" fill="#fff" stroke="#000" stroke-width="3"/>
<path d="M1652.7,1467.6 L1652.7,1493.4 L1637.4,1493.4 L1637.4,1503 L1668,1503 L1668,1512 L1637.4,1512 L1637.4,1522 L1668,1522 L1668,1532 L1637.4,1532 L1637.4,1542 L1652.7,1542 L1652.7,1560" class="tn" style="stroke-width:2.8"/>
<circle cx="1654.7" cy="1564.5" r="7.6" fill="#000"/>
<path d="M1654.7,1570 L1654.7,1582" class="tn" style="stroke-width:3"/>
<path d="M1626.7,1581.3 L1682.7,1581.3 L1679.2,1586.3 L1630.2,1586.3 Z" fill="#000"/>
<path d="M1635.7,1590.9 L1673.7,1590.9 L1670.2,1595.9 L1639.2,1595.9 Z" fill="#000"/>
<path d="M1644.2,1600.5 L1665.2,1600.5 L1661.7,1605.5 L1647.7,1605.5 Z" fill="#000"/>
<path d="M1651.2,1609.6 L1658.2,1609.6 L1654.7,1614.5 Z" fill="#000"/>
<circle cx="1717.6" cy="1457.6" r="10" fill="#fff" stroke="#000" stroke-width="3"/>
<path d="M1717.6,1467.6 L1717.6,1493.4 L1702.3,1493.4 L1702.3,1503 L1732.9,1503 L1732.9,1512 L1702.3,1512 L1702.3,1522 L1732.9,1522 L1732.9,1532 L1702.3,1532 L1702.3,1542 L1717.6,1542 L1717.6,1560" class="tn" style="stroke-width:2.8"/>
<circle cx="1719.6" cy="1564.5" r="7.6" fill="#000"/>
<path d="M1719.6,1570 L1719.6,1582" class="tn" style="stroke-width:3"/>
<path d="M1691.6,1581.3 L1747.6,1581.3 L1744.1,1586.3 L1695.1,1586.3 Z" fill="#000"/>
<path d="M1700.6,1590.9 L1738.6,1590.9 L1735.1,1595.9 L1704.1,1595.9 Z" fill="#000"/>
<path d="M1709.1,1600.5 L1730.1,1600.5 L1726.6,1605.5 L1712.6,1605.5 Z" fill="#000"/>
<path d="M1716.1,1609.6 L1723.1,1609.6 L1719.6,1614.5 Z" fill="#000"/>
<circle cx="1783.8" cy="1457.6" r="10" fill="#fff" stroke="#000" stroke-width="3"/>
<path d="M1783.8,1467.6 L1783.8,1493.4 L1768.5,1493.4 L1768.5,1503 L1799.1,1503 L1799.1,1512 L1768.5,1512 L1768.5,1522 L1799.1,1522 L1799.1,1532 L1768.5,1532 L1768.5,1542 L1783.8,1542 L1783.8,1560" class="tn" style="stroke-width:2.8"/>
<circle cx="1785.8" cy="1564.5" r="7.6" fill="#000"/>
<path d="M1785.8,1570 L1785.8,1582" class="tn" style="stroke-width:3"/>
<path d="M1757.8,1581.3 L1813.8,1581.3 L1810.3,1586.3 L1761.3,1586.3 Z" fill="#000"/>
<path d="M1766.8,1590.9 L1804.8,1590.9 L1801.3,1595.9 L1770.3,1595.9 Z" fill="#000"/>
<path d="M1775.3,1600.5 L1796.3,1600.5 L1792.8,1605.5 L1778.8,1605.5 Z" fill="#000"/>
<path d="M1782.3,1609.6 L1789.3,1609.6 L1785.8,1614.5 Z" fill="#000"/>
<path d="M678.1,1934.7 L678.1,1805 L1405.3,1805 L1405.3,1934.7 L678.1,1934.7" class="tn" style="stroke-width:2.7;stroke-dasharray:8 6;stroke-dashoffset:0;stroke-linecap:butt"/>
<text x="661" y="1877" font-size="26" font-weight="bold" font-style="normal" text-anchor="start">2</text>
<path d="M708.5,1917 L708.5,1831 L1294.5,1831 L1294.5,1917" class="tn" style="stroke-width:2.7"/>
<path d="M822,1917 L822,1855 L1214.5,1855 L1214.5,1917" class="tn" style="stroke-width:2.7"/>
<circle cx="886.5" cy="1855" r="5.5" fill="#000"/>
<path d="M886.5,1855 L886.5,1917" class="tn" style="stroke-width:2.7"/>
<path d="M1078,1917 L1078,1878 L1139.7,1878 L1139.7,1917" class="tn" style="stroke-width:2.7"/>
<rect x="702.5" y="1917" width="12" height="31.7" fill="#000"/>
<path d="M697,1949 A12 12 0 0 0 720,1949" class="tn" style="stroke-width:3.2"/>
<text x="720" y="1930.5" font-size="21.5" font-weight="normal" font-style="normal" text-anchor="start">F/3</text>
<rect x="816" y="1917" width="12" height="31.7" fill="#000"/>
<path d="M810.5,1949 A12 12 0 0 0 833.5,1949" class="tn" style="stroke-width:3.2"/>
<text x="833.5" y="1930.5" font-size="21.5" font-weight="normal" font-style="normal" text-anchor="start">Y/2</text>
<rect x="880.5" y="1917" width="12" height="31.7" fill="#000"/>
<path d="M875,1949 A12 12 0 0 0 898,1949" class="tn" style="stroke-width:3.2"/>
<text x="898" y="1930.5" font-size="21.5" font-weight="normal" font-style="normal" text-anchor="start">Y/4</text>
<rect x="1072" y="1917" width="12" height="31.7" fill="#000"/>
<path d="M1066.5,1949 A12 12 0 0 0 1089.5,1949" class="tn" style="stroke-width:3.2"/>
<text x="1089.5" y="1930.5" font-size="21.5" font-weight="normal" font-style="normal" text-anchor="start">F/1</text>
<rect x="1133.7" y="1917" width="12" height="31.7" fill="#000"/>
<path d="M1128.2,1949 A12 12 0 0 0 1151.2,1949" class="tn" style="stroke-width:3.2"/>
<text x="1151.2" y="1930.5" font-size="21.5" font-weight="normal" font-style="normal" text-anchor="start">H1/1</text>
<rect x="1209" y="1917" width="12" height="31.7" fill="#000"/>
<path d="M1203.5,1949 A12 12 0 0 0 1226.5,1949" class="tn" style="stroke-width:3.2"/>
<text x="1226.5" y="1930.5" font-size="21.5" font-weight="normal" font-style="normal" text-anchor="start">H1/2</text>
<rect x="1288.5" y="1917" width="12" height="31.7" fill="#000"/>
<path d="M1283,1949 A12 12 0 0 0 1306,1949" class="tn" style="stroke-width:3.2"/>
<text x="1306" y="1930.5" font-size="21.5" font-weight="normal" font-style="normal" text-anchor="start">U2/12</text>
<path d="M709.7,1957 L709.7,1999" class="tk" style="stroke-width:8.8"/>
<text x="702" y="2016.3" font-size="21" font-weight="normal" font-style="normal" text-anchor="middle" transform="rotate(90 702 2016.3)">Bl</text>
<path d="M709.7,2031.8 L709.7,2071" class="tk" style="stroke-width:8.8"/>
<path d="M698.2,2081 A12 12 0 0 1 721.2,2081" class="tn" style="stroke-width:3.2"/>
<rect x="704" y="2081" width="11.5" height="31.5" fill="#000"/>
<path d="M709.7,2112 L709.7,2137" class="tk" style="stroke-width:8.8"/>
<text x="702" y="2153.2" font-size="21" font-weight="normal" font-style="normal" text-anchor="middle" transform="rotate(90 702 2153.2)">Bl</text>
<path d="M709.3,2170 L709.3,2261" class="tk" style="stroke-width:8.8"/>
<path d="M697.8,2271 A12 12 0 0 1 720.8,2271" class="tn" style="stroke-width:3.2"/>
<rect x="703.3" y="2271" width="12" height="32" fill="#000"/>
<path d="M822,1957 L822,1994" class="tk" style="stroke-width:8.8"/>
<circle cx="822" cy="1979" r="10" fill="#000"/>
<path d="M822,1979 L876,1979 Q886.5,1979 886.5,1968.5 L886.5,1958" class="tk" style="stroke-width:8.8"/>
<text x="814.5" y="2015.8" font-size="21" font-weight="normal" font-style="normal" text-anchor="middle" transform="rotate(90 814.5 2015.8)">Ro</text>
<path d="M822,2036 L822,2110 Q822,2128 840,2135" class="tk" style="stroke-width:8.5"/>
<path d="M753,2131 L753,2064.3 Q753,2049.3 768,2049.3 L952.3,2049.3 Q967.3,2049.3 967.3,2064.3 L967.3,2131" class="tk" style="stroke-width:8.8"/>
<path d="M848,2131 L848,2086.6 Q848,2071.6 863,2071.6 L926.6,2071.6 Q941.6,2071.6 941.6,2086.6 L941.6,2131" class="tk" style="stroke-width:8.8"/>
<text x="745.5" y="2153.2" font-size="21" font-weight="normal" font-style="normal" text-anchor="middle" transform="rotate(90 745.5 2153.2)">Sw</text>
<path d="M752.7,2175 L752.7,2261" class="tk" style="stroke-width:8.8"/>
<path d="M741.2,2271 A12 12 0 0 1 764.2,2271" class="tn" style="stroke-width:3.2"/>
<rect x="746.7" y="2271" width="12" height="32" fill="#000"/>
<text x="934.9" y="2152.5" font-size="21" font-weight="normal" font-style="normal" text-anchor="middle" transform="rotate(90 934.9 2152.5)">Sw</text>
<text x="960" y="2152.5" font-size="21" font-weight="normal" font-style="normal" text-anchor="middle" transform="rotate(90 960 2152.5)">Sw</text>
<path d="M942.4,2175 L942.4,2190 Q942.4,2205 967.5,2213.3" class="tk" style="stroke-width:8.5"/>
<path d="M967.5,2175 L967.5,2213.3" class="tk" style="stroke-width:8.8"/>
<circle cx="967.5" cy="2213.3" r="10.5" fill="#000"/>
<path d="M1013,1976 L1013,1964.8 Q1013,1953.7 1024.2,1953.7 L1030.6,1953.7 Q1046.6,1953.7 1046.6,1969.7 L1046.6,2053" class="tk" style="stroke-width:8.8"/>
<text x="1005.5" y="2015.3" font-size="21" font-weight="normal" font-style="normal" text-anchor="middle" transform="rotate(90 1005.5 2015.3)">Ro/Sw</text>
<path d="M1035.1,2063 A12 12 0 0 1 1058.1,2063" class="tn" style="stroke-width:3.2"/>
<rect x="1040.6" y="2063" width="12" height="31.7" fill="#000"/>
<path d="M1046.6,2094 L1046.6,2170.6 Q1046.6,2185.6 1061.6,2185.6 L1064,2185.6 Q1079,2185.6 1079,2170.6 L1079,2054.4" class="tk" style="stroke-width:8.8"/>
<path d="M1078,1957 L1078,1976" class="tk" style="stroke-width:8.8"/>
<text x="1070.5" y="2015.5" font-size="21" font-weight="normal" font-style="normal" text-anchor="middle" transform="rotate(90 1070.5 2015.5)">Ro/Sw</text>
<path d="M1013,2055 L1013.6,2190" class="tk" style="stroke-width:8.8"/>
<path d="M1002.1,2200 A12 12 0 0 1 1025.1,2200" class="tn" style="stroke-width:3.2"/>
<rect x="1007.6" y="2200" width="12" height="31.7" fill="#000"/>
<path d="M1139.7,1957 L1139.7,1976" class="tk" style="stroke-width:8.8"/>
<text x="1132" y="2015.5" font-size="21" font-weight="normal" font-style="normal" text-anchor="middle" transform="rotate(90 1132 2015.5)">Ro/Sw</text>
<path d="M1139.7,2054.4 L1139,2404.4 Q1139,2417.4 1152,2417.4 L1202,2417.4 Q1215,2417.4 1215,2404.4 L1215,2384" class="tk" style="stroke-width:8.8"/>
<path d="M1215,1957 L1215,1995" class="tk" style="stroke-width:8.8"/>
<text x="1207.5" y="2015.5" font-size="21" font-weight="normal" font-style="normal" text-anchor="middle" transform="rotate(90 1207.5 2015.5)">Ro</text>
<path d="M1215,2035.5 L1215,2203" class="tk" style="stroke-width:8.8"/>
<path d="M1204,2211 A12 12 0 0 1 1227,2211" class="tn" style="stroke-width:3.2"/>
<rect x="1210.2" y="2211" width="12" height="32" fill="#000"/>
<path d="M1294.5,1957 L1294.5,1999" class="tk" style="stroke-width:8.8"/>
<text x="1287" y="2016.3" font-size="21" font-weight="normal" font-style="normal" text-anchor="middle" transform="rotate(90 1287 2016.3)">Bl</text>
<path d="M1295.5,2031.8 L1295.8,2195 Q1295.8,2210 1310.8,2210 L1352,2210 Q1367,2210 1367,2195 L1367,2149" class="tk" style="stroke-width:8.8"/>
<text x="1369" y="2011.6" font-size="25" font-weight="bold" font-style="normal" text-anchor="middle">Charge</text>
<text x="1369" y="2036.8" font-size="25" font-weight="bold" font-style="normal" text-anchor="middle">warning</text>
<text x="1369" y="2062" font-size="25" font-weight="bold" font-style="normal" text-anchor="middle">light</text>
<text x="1369" y="2083.4" font-size="21" font-weight="bold" font-style="italic" text-anchor="middle">Diagram 6</text>
<text x="1369" y="2104.8" font-size="21" font-weight="bold" font-style="italic" text-anchor="middle">Arrow E</text>
<path d="M1330,2111 L1401,2111" class="tn" style="stroke-width:1.5"/>
<text x="1366" y="2134" font-size="24" font-weight="bold" font-style="italic" text-anchor="middle">E</text>
<path d="M690.8,2330.5 L690.8,2287 L773.8,2287 L773.8,2368.7 L690.8,2368.7 L690.8,2361" fill="none" stroke="#000" stroke-width="3"/>
<text x="696" y="2324" font-size="21.5" font-weight="normal" font-style="normal" text-anchor="start">D+</text>
<text x="739.6" y="2324" font-size="21.5" font-weight="normal" font-style="normal" text-anchor="start">B+</text>
<text x="681" y="2354" font-size="24" font-weight="bold" font-style="italic" text-anchor="middle">5</text>
<circle cx="731.7" cy="2366" r="10" fill="#000"/>
<path d="M731.7,2370 L731.7,2388" class="tn" style="stroke-width:3.5"/>
<path d="M696.7,2387.2 L766.7,2387.2 L763.2,2392.8 L700.2,2392.8 Z" fill="#000"/>
<path d="M707.2,2397.8 L756.2,2397.8 L752.7,2403.2 L710.7,2403.2 Z" fill="#000"/>
<path d="M716.7,2408.2 L746.7,2408.2 L743.2,2413.8 L720.2,2413.8 Z" fill="#000"/>
<path d="M727.2,2418.5 L736.2,2418.5 L731.7,2424.8 Z" fill="#000"/>
<path d="M817.3,2187 L817.3,2140.8 L879.2,2140.8 L879.2,2263.3 L817.3,2263.3 L817.3,2218.6" fill="none" stroke="#000" stroke-width="3"/>
<circle cx="847.6" cy="2140.8" r="9.5" fill="#fff" stroke="#000" stroke-width="3"/>
<circle cx="847.6" cy="2172.5" r="19.5" fill="#fff" stroke="#000" stroke-width="3.5"/>
<path d="M835,2172.5 L860.2,2172.5" class="tn" style="stroke-width:3.5"/>
<path d="M847.6,2160 L847.6,2185" class="tn" style="stroke-width:3.5"/>
<circle cx="847.6" cy="2233" r="19.5" fill="#fff" stroke="#000" stroke-width="3.5"/>
<path d="M835,2233 L860.2,2233" class="tn" style="stroke-width:3.5"/>
<path d="M849,2273 L849,2295" class="tk" style="stroke-width:8.8"/>
<circle cx="847.6" cy="2263.3" r="9.5" fill="#fff" stroke="#000" stroke-width="3"/>
<text x="841.5" y="2316.8" font-size="21" font-weight="normal" font-style="normal" text-anchor="middle" transform="rotate(90 841.5 2316.8)">Sw</text>
<path d="M849,2338.4 L849,2368" class="tk" style="stroke-width:8.8"/>
<circle cx="849" cy="2368.7" r="10.5" fill="#000"/>
<path d="M849,2372 L849,2390" class="tn" style="stroke-width:3.5"/>
<path d="M814,2388.8 L884,2388.8 L880.5,2394.2 L817.5,2394.2 Z" fill="#000"/>
<path d="M824,2399.2 L874,2399.2 L870.5,2404.8 L827.5,2404.8 Z" fill="#000"/>
<path d="M834.5,2409.8 L863.5,2409.8 L860,2415.2 L838,2415.2 Z" fill="#000"/>
<path d="M844.5,2420 L853.5,2420 L849,2426.3 Z" fill="#000"/>
<text x="848.9" y="2449" font-size="24.5" font-weight="normal" font-style="normal" text-anchor="middle" letter-spacing="-1.5">E1</text>
<text x="806" y="2209" font-size="24" font-weight="bold" font-style="italic" text-anchor="middle">1</text>
<path d="M929.3,2329 L929.3,2214.6 L1086.2,2214.6 L1086.2,2370.3 L929.3,2370.3 L929.3,2357" fill="none" stroke="#000" stroke-width="3"/>
<text x="935.9" y="2237" font-size="20" font-weight="normal" font-style="normal" text-anchor="start">30</text>
<text x="980.6" y="2237" font-size="20" font-weight="normal" font-style="normal" text-anchor="start">50</text>
<text x="921" y="2355" font-size="24" font-weight="bold" font-style="italic" text-anchor="middle">4</text>
<path d="M966.2,2213 L966.2,2241.4" class="tn" style="stroke-width:2.7"/>
<circle cx="966.2" cy="2246.2" r="5" fill="#fff" stroke="#000" stroke-width="2.4"/>
<path d="M1013.6,2231 L1013.6,2262" class="tn" style="stroke-width:2.7"/>
<path d="M1012.3,2240.5 L1018,2246.2 L1012.3,2252 L1006.6,2246.2 Z" fill="#000"/>
<path d="M1012.3,2246.2 L991.2,2246.2 L991.2,2262" class="tn" style="stroke-width:2.7"/>
<rect x="983.3" y="2262" width="54" height="18.5" fill="url(#hatch)" stroke="#000" stroke-width="2.6"/>
<path d="M991.2,2280.5 L991.2,2293.6 L971,2293.6" class="tn" style="stroke-width:2.7"/>
<path d="M1013.6,2280.5 L1013.6,2293.6 L1066.3,2293.6 L1066.3,2368" class="tn" style="stroke-width:2.7"/>
<circle cx="966.2" cy="2293.6" r="5" fill="#fff" stroke="#000" stroke-width="2.4"/>
<path d="M964,2289 L945,2256.8" class="tn" style="stroke-width:3"/>
<path d="M961,2271 L983,2271" class="tn" style="stroke-width:2.4;stroke-dasharray:3.5 3"/>
<rect x="962" y="2304" width="9.4" height="27.8" fill="url(#hatch)" stroke="#000" stroke-width="2.4"/>
<path d="M966.5,2298.6 L966.5,2304" class="tn" style="stroke-width:2.7"/>
<path d="M966.5,2331.8 L966.5,2341 L985,2341" class="tn" style="stroke-width:2.7"/>
<rect x="984.6" y="2330.5" width="13.2" height="22.5" fill="#000"/>
<rect x="1033.3" y="2330.5" width="13.2" height="22.5" fill="#000"/>
<circle cx="1015" cy="2341" r="17" fill="#fff" stroke="#000" stroke-width="3.5"/>
<text x="1015" y="2349" font-size="20" font-weight="normal" font-style="normal" text-anchor="middle">M</text>
<path d="M1046,2341 L1066.3,2341" class="tn" style="stroke-width:2.7"/>
<path d="M1066.3,2336 L1071.3,2341 L1066.3,2346 L1061.3,2341 Z" fill="#000"/>
<circle cx="1066.3" cy="2368.7" r="10.5" fill="#000"/>
<path d="M1066.3,2372 L1066.3,2390" class="tn" style="stroke-width:3.5"/>
<path d="M1031.3,2388.8 L1101.3,2388.8 L1097.8,2394.2 L1034.8,2394.2 Z" fill="#000"/>
<path d="M1041.3,2399.2 L1091.3,2399.2 L1087.8,2404.8 L1044.8,2404.8 Z" fill="#000"/>
<path d="M1051.8,2409.8 L1080.8,2409.8 L1077.3,2415.2 L1055.3,2415.2 Z" fill="#000"/>
<path d="M1061.8,2420 L1070.8,2420 L1066.3,2426.3 Z" fill="#000"/>
<path d="M1243,2229.6 L1174,2229.6 L1174,2358.9 L1407,2358.9 L1407,2229.6 L1280.6,2229.6" fill="none" stroke="#000" stroke-width="3"/>
<text x="1262.5" y="2227.7" font-size="24" font-weight="bold" font-style="italic" text-anchor="middle">3</text>
<text x="1183.4" y="2248.8" font-size="20" font-weight="normal" font-style="normal" text-anchor="start">30</text>
<path d="M1216.2,2246.6 L1221.9,2252.3 L1216.2,2258 L1210.5,2252.3 Z" fill="#000"/>
<path d="M1216.2,2243 L1216.2,2269.5" class="tn" style="stroke-width:2.7"/>
<path d="M1216.2,2252.3 L1360.2,2252.3 L1360.2,2269.5" class="tn" style="stroke-width:2.7"/>
<circle cx="1287.6" cy="2252.3" r="5.5" fill="#000"/>
<path d="M1287.6,2252.3 L1287.6,2269.5" class="tn" style="stroke-width:2.7"/>
<circle cx="1216.2" cy="2274.6" r="5" fill="#fff" stroke="#000" stroke-width="2.4"/>
<circle cx="1287.6" cy="2274.6" r="5" fill="#fff" stroke="#000" stroke-width="2.4"/>
<circle cx="1360.2" cy="2274.6" r="5" fill="#fff" stroke="#000" stroke-width="2.4"/>
<path d="M1196.5,2307 L1213,2279" class="tn" style="stroke-width:3.8"/>
<path d="M1267.9,2307 L1284.4,2279" class="tn" style="stroke-width:3.8"/>
<path d="M1340.5,2307 L1357,2279" class="tn" style="stroke-width:3.8"/>
<path d="M1209,2293.3 L1343.8,2293.3" class="tn" style="stroke-width:2.4;stroke-dasharray:3.5 3"/>
<circle cx="1194" cy="2310.9" r="5" fill="#fff" stroke="#000" stroke-width="2.4"/>
<circle cx="1215" cy="2318" r="5" fill="#fff" stroke="#000" stroke-width="2.4"/>
<circle cx="1237.3" cy="2310.9" r="5" fill="#fff" stroke="#000" stroke-width="2.4"/>
<circle cx="1265.4" cy="2310.9" r="5" fill="#fff" stroke="#000" stroke-width="2.4"/>
<circle cx="1287.6" cy="2318" r="5" fill="#fff" stroke="#000" stroke-width="2.4"/>
<circle cx="1308.7" cy="2310.9" r="5" fill="#fff" stroke="#000" stroke-width="2.4"/>
<circle cx="1338" cy="2310.9" r="5" fill="#fff" stroke="#000" stroke-width="2.4"/>
<circle cx="1360.2" cy="2318" r="5" fill="#fff" stroke="#000" stroke-width="2.4"/>
<circle cx="1381.3" cy="2310.9" r="5" fill="#fff" stroke="#000" stroke-width="2.4"/>
<path d="M1237.3,2316 L1237.3,2333.1 L1216.2,2333.1 L1216.2,2343.6" class="tn" style="stroke-width:2.7"/>
<rect x="1210.2" y="2343.6" width="12" height="31.7" fill="#000"/>
<path d="M1287.6,2323 L1287.6,2343.6" class="tn" style="stroke-width:2.7"/>
<rect x="1281.2" y="2343.6" width="12" height="31.7" fill="#000"/>
<path d="M1381.3,2316 L1381.3,2333.1 L1361.4,2333.1" class="tn" style="stroke-width:2.7"/>
<path d="M1360.2,2323 L1361.4,2343.6" class="tn" style="stroke-width:2.7"/>
<path d="M1361.4,2327.4 L1367.1,2333.1 L1361.4,2338.8 L1355.7,2333.1 Z" fill="#000"/>
<rect x="1355.4" y="2343.6" width="12" height="31.7" fill="#000"/>
<text x="1183.4" y="2353" font-size="20" font-weight="normal" font-style="normal" text-anchor="start">50</text>
<text x="1260.7" y="2353" font-size="20" font-weight="normal" font-style="normal" text-anchor="start">X</text>
<text x="1329.8" y="2353" font-size="20" font-weight="normal" font-style="normal" text-anchor="start">15</text>
<path d="M1204.7,2376 A12 12 0 0 0 1227.7,2376" class="tn" style="stroke-width:3.2"/>
</svg>
</body></html>
